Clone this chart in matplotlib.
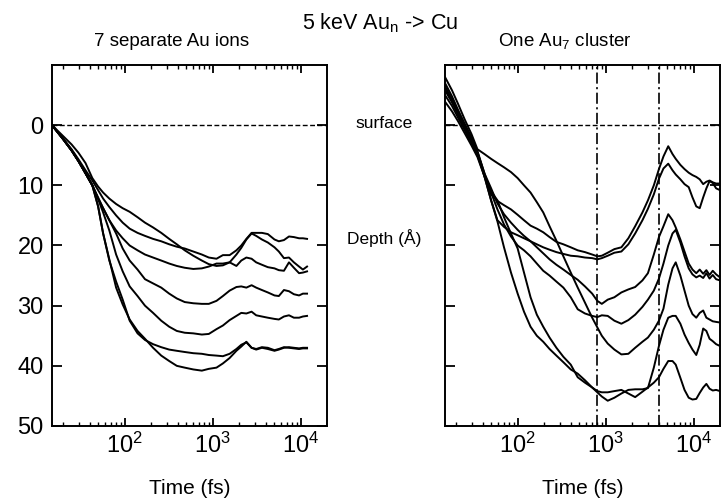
import numpy as np
import matplotlib
matplotlib.use("Agg")
import matplotlib.pyplot as plt
from matplotlib.ticker import LogLocator, NullFormatter

# time grids (fs)
T_LEFT = [15, 20, 25, 30, 36, 43, 50, 57, 67, 80, 95, 114, 140, 170, 210, 260, 320,
          390, 480, 600, 750, 900, 1100, 1300, 1550, 1850, 2100, 2400, 2750, 3100,
          3600, 4200, 5000, 5600, 6400, 7300, 8300, 9500, 10500, 11700]
T_RIGHT = [15, 18, 21, 25, 30, 35, 42, 50, 59, 70, 84, 100, 118, 140, 165, 195, 230,
           275, 330, 400, 480, 580, 700, 800, 900, 1050, 1250, 1500, 1800, 2150, 2600,
           3000, 3500, 4000, 4500, 5100, 5700, 6200, 7000, 7800, 8700, 9600, 10600,
           11600, 12700, 13800, 15000, 16300, 17800, 19700]

# depth (A) of each of the 7 separate ions
ion1 = [0, 2.2, 4.0, 5.7, 7.5, 9.2, 10.8, 12.2, 13.6, 15.0, 16.2, 17.2, 17.9, 18.4, 18.9,
        19.3, 19.8, 20.2, 20.5, 21.0, 21.5, 22.0, 22.2, 21.6, 21.6, 20.8, 20.0, 18.9, 17.9,
        17.9, 17.9, 18.1, 19.0, 19.3, 19.1, 18.5, 18.6, 18.8, 18.8, 18.9]
ion2 = [0, 1.8, 3.2, 4.6, 6.3, 8.8, 10.2, 11.2, 12.2, 13.1, 13.8, 14.4, 15.3, 16.2, 17.0,
        17.9, 18.9, 19.8, 20.8, 21.7, 22.5, 23.1, 23.4, 23.3, 22.8, 21.5, 20.4, 19.0, 18.0,
        18.4, 19.0, 19.5, 20.3, 21.0, 22.1, 22.0, 22.8, 23.5, 24.0, 23.5]
ion3 = [0, 2.3, 4.2, 6.0, 8.0, 10.0, 12.2, 13.8, 15.8, 17.5, 18.8, 20.0, 20.8, 21.5, 22.0,
        22.5, 23.0, 23.4, 23.7, 23.9, 23.8, 23.5, 23.0, 23.0, 22.8, 23.4, 22.5, 22.0, 22.2,
        22.8, 23.2, 23.6, 23.8, 24.1, 24.2, 22.8, 23.7, 24.6, 24.5, 24.3]
ion4 = [0, 2.3, 4.2, 6.0, 8.0, 10.0, 12.0, 13.8, 15.8, 18.0, 20.5, 22.5, 24.0, 25.6, 26.3,
        27.0, 28.0, 28.8, 29.4, 29.6, 29.7, 29.7, 29.2, 28.4, 27.5, 26.9, 26.8, 27.0, 26.6,
        27.0, 27.4, 27.8, 28.3, 28.4, 27.4, 27.6, 28.1, 28.3, 28.0, 28.0]
ion5 = [0, 2.3, 4.2, 6.0, 8.0, 10.0, 12.3, 14.5, 17.5, 21.5, 24.3, 26.8, 28.4, 30.0, 31.2,
        32.5, 33.5, 34.2, 34.5, 34.6, 34.8, 34.7, 33.9, 33.3, 32.4, 31.7, 31.2, 31.3, 31.0,
        31.6, 31.8, 32.0, 32.2, 32.3, 31.8, 31.6, 32.0, 32.0, 31.8, 31.7]
ion6 = [0, 2.3, 4.2, 6.0, 8.0, 10.0, 13.5, 18.0, 22.5, 26.0, 29.0, 32.5, 34.6, 35.7, 36.4,
        36.9, 37.3, 37.5, 37.7, 37.9, 38.0, 38.2, 38.3, 38.4, 38.0, 37.2, 36.5, 36.1, 37.0,
        37.2, 36.9, 37.0, 37.4, 37.2, 36.9, 37.0, 37.1, 37.2, 37.1, 37.1]
ion7 = [0, 2.3, 4.2, 6.0, 8.0, 10.0, 13.5, 18.0, 22.3, 27.0, 29.8, 32.3, 34.2, 35.5, 37.0,
        38.3, 39.2, 40.0, 40.3, 40.6, 40.8, 40.5, 40.3, 39.6, 38.7, 37.5, 36.8, 36.0, 37.0,
        37.3, 37.0, 37.2, 37.5, 37.3, 37.0, 36.9, 37.0, 37.1, 37.0, 37.0]

# depth (A) of the 7 atoms of the Au7 cluster
atom1 = [-7.0, -4.8, -2.6, -0.3, 2.0, 4.5, 8.0, 11.5, 12.6, 13.3, 14.0, 14.9, 15.8, 16.7,
         17.2, 17.8, 18.6, 19.4, 19.8, 20.3, 20.8, 21.1, 21.5, 21.8, 21.7, 21.2, 20.6, 20.3,
         18.8, 16.8, 14.5, 12.5, 10.0, 7.3, 5.2, 3.5, 4.8, 5.6, 6.6, 7.3, 7.9, 8.3, 8.6,
         9.0, 9.8, 9.4, 9.2, 9.5, 9.7, 9.7]
atom2 = [-6.0, -4.0, -2.0, 0.3, 2.6, 4.5, 8.5, 12.5, 15.8, 16.9, 17.8, 18.3, 18.8, 19.3,
         19.8, 20.3, 20.7, 21.1, 21.4, 21.7, 21.8, 22.0, 22.1, 22.3, 22.1, 21.7, 21.2, 21.0,
         19.8, 18.0, 15.8, 13.9, 11.5, 8.9, 7.2, 6.4, 7.5, 8.2, 9.0, 9.8, 10.3, 12.0, 13.5,
         13.8, 12.0, 10.5, 9.3, 9.6, 10.5, 10.8]
atom3 = [-6.5, -4.3, -2.2, 0.0, 2.3, 4.3, 8.0, 10.5, 13.0, 14.8, 16.2, 17.4, 18.4, 19.3,
         20.3, 21.3, 22.3, 23.2, 24.0, 24.9, 25.7, 26.8, 28.0, 29.2, 29.7, 29.0, 28.6, 27.8,
         27.3, 26.9, 25.8, 24.6, 21.5, 18.6, 16.8, 14.8, 15.8, 17.0, 19.0, 21.0, 23.0, 24.0,
         24.6, 24.0, 24.7, 24.1, 24.9, 24.2, 24.8, 25.3]
atom4 = [-5.8, -3.8, -1.8, 0.5, 2.8, 4.6, 8.3, 11.2, 14.0, 16.5, 18.5, 20.0, 20.8, 21.8,
         23.0, 24.2, 25.0, 26.0, 27.0, 28.6, 30.6, 31.3, 31.7, 31.9, 31.6, 31.7, 32.5, 33.0,
         32.4, 31.5, 30.2, 29.0, 27.5, 25.5, 23.0, 20.0, 18.0, 17.4, 19.5, 21.8, 23.8, 24.8,
         25.3, 25.0, 25.4, 24.6, 25.5, 24.9, 25.6, 25.8]
atom5 = [-8.0, -5.8, -3.6, -1.0, 1.5, 4.0, 4.8, 5.6, 6.3, 7.0, 7.8, 8.8, 10.0, 11.2, 12.8,
         14.5, 16.8, 19.2, 21.8, 24.5, 27.0, 29.5, 32.0, 33.6, 35.0, 36.3, 37.3, 38.1, 38.0,
         37.0, 36.0, 35.3, 34.0, 32.5, 30.5, 26.5, 23.8, 22.8, 25.0, 27.5, 30.0, 31.4, 32.0,
         31.2, 30.8, 32.0, 32.3, 32.6, 32.7, 32.8]
atom6 = [-5.0, -3.2, -1.3, 0.8, 3.0, 5.0, 8.5, 12.5, 16.0, 20.3, 24.5, 28.0, 31.0, 33.5,
         35.0, 36.0, 37.2, 38.3, 39.4, 40.6, 41.3, 42.4, 43.6, 44.4, 45.1, 45.8, 45.3, 44.6,
         44.0, 43.9, 43.9, 43.7, 40.3, 36.7, 34.0, 32.0, 31.7, 31.7, 33.0, 34.8, 36.2, 37.3,
         38.2, 36.5, 33.8, 34.2, 35.5, 35.9, 36.4, 36.7]
atom7 = [-3.9, -2.3, -0.7, 1.3, 3.4, 5.3, 8.5, 11.0, 12.5, 15.3, 18.0, 20.5, 24.5, 28.6,
         31.5, 33.5, 35.3, 37.0, 38.5, 39.8, 41.9, 42.8, 43.6, 44.2, 44.4, 44.4, 44.2, 44.0,
         44.6, 45.2, 44.3, 43.6, 42.8, 41.9, 40.5, 39.2, 39.2, 39.8, 42.0, 44.0, 45.3, 45.6,
         45.5, 44.5, 43.6, 43.0, 43.8, 44.1, 44.0, 44.2]

# times marked by dash-dot lines in the cluster panel
MARK_TIMES = [800, 4000]

plt.rcParams.update({
    "font.family": "Liberation Sans",
    "mathtext.fontset": "custom",
    "mathtext.rm": "Liberation Sans",
    "mathtext.it": "Liberation Sans:italic",
    "lines.scale_dashes": False,
    "axes.linewidth": 1.4,
})

fig = plt.figure(figsize=(7.28, 5.0), dpi=100)
axL = fig.add_axes([52 / 728, 74 / 500, 275 / 728, 361 / 500])
axR = fig.add_axes([445 / 728, 74 / 500, 275 / 728, 361 / 500])

for d in (ion1, ion2, ion3, ion4, ion5, ion6, ion7):
    axL.plot(T_LEFT, d, color="black", lw=1.4)
for d in (atom1, atom2, atom3, atom4, atom5, atom6, atom7):
    axR.plot(T_RIGHT, d, color="black", lw=1.4)
for t in MARK_TIMES:
    axR.axvline(t, color="black", lw=1.2, ls=(0, (8, 2.5, 1.5, 2.5)))

for ax in (axL, axR):
    ax.set_xscale("log")
    ax.set_xlim(15, 19700)
    ax.set_ylim(50, -10)
    ax.axhline(0, color="black", lw=1.0, ls=(0, (3.5, 1.8)))
    ax.set_yticks([0, 10, 20, 30, 40, 50])
    ax.xaxis.set_major_locator(LogLocator(base=10))
    ax.xaxis.set_minor_locator(LogLocator(base=10, subs=np.arange(2, 10)))
    ax.xaxis.set_minor_formatter(NullFormatter())
    ax.tick_params(which="both", direction="in", top=True, right=True, colors="black")
    ax.tick_params(axis="y", length=7, width=1.3, labelsize=17, pad=6)
    ax.tick_params(axis="x", which="major", length=6, width=1.3, labelsize=17, pad=5)
    ax.tick_params(axis="x", which="minor", length=3, width=1.0)
axR.tick_params(axis="y", labelleft=False)

fig.text(380 / 728, 1 - 29 / 500, r"5 keV Au$_{\mathdefault{n}}$ -> Cu", fontsize=15.5,
         ha="center", va="baseline")
fig.text(172 / 728, 1 - 46 / 500, "7 separate Au ions", fontsize=13.5, ha="center",
         va="baseline")
fig.text(565 / 728, 1 - 46 / 500, r"One Au$_{\mathdefault{7}}$ cluster", fontsize=13.5,
         ha="center", va="baseline")
fig.text(384 / 728, 1 - 124 / 500, "surface", fontsize=12.5, ha="center", va="center")
fig.text(384 / 728, 1 - 238 / 500, "Depth (\u00c5)", fontsize=12.5, ha="center", va="center")
fig.text(190 / 728, 1 - 488 / 500, "Time (fs)", fontsize=15, ha="center", va="center")
fig.text(583 / 728, 1 - 488 / 500, "Time (fs)", fontsize=15, ha="center", va="center")

fig.savefig("out.png", dpi=100, facecolor="white")
